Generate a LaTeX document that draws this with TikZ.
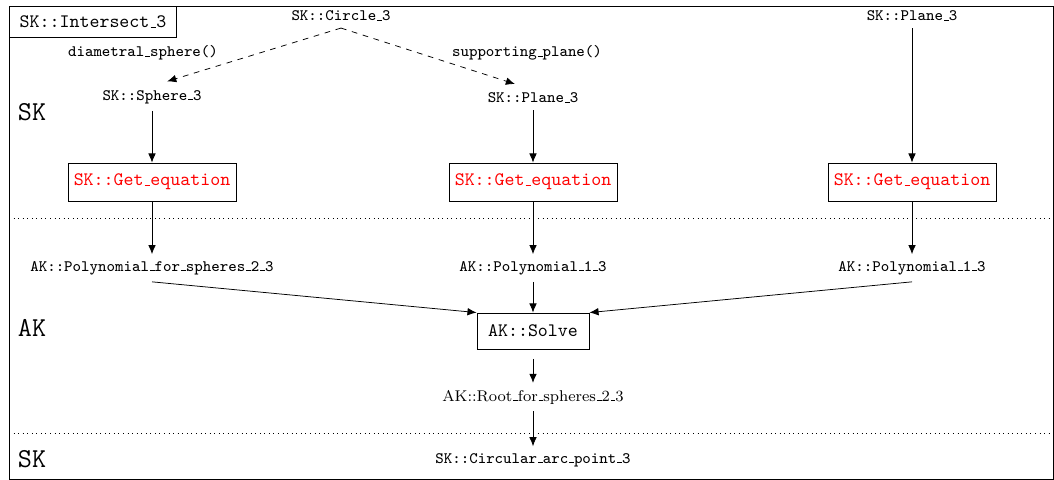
\documentclass[tikz,border=0pt]{standalone}
\usetikzlibrary{arrows.meta}
\newcommand{\us}{\leavevmode\kern.06em\vbox{\hrule width.3em}}
\begin{document}
\begin{tikzpicture}[x=0.5263pt,y=-0.5263pt,
  lbl/.style={font=\ttfamily\fontsize{8.4}{10}\selectfont, inner sep=3.5pt},
  rlbl/.style={font=\fontsize{8.2}{10}\selectfont, inner sep=3.5pt},
  fnbox/.style={draw, font=\ttfamily, text=red, minimum width=88.4pt, minimum height=20pt, inner sep=0pt},
  solvebox/.style={draw, font=\ttfamily, minimum width=59pt, minimum height=19pt, inner sep=0pt},
  layer/.style={font=\ttfamily\Large, inner sep=0pt},
  arr/.style={-{Latex[length=4.8pt,width=4pt]}},
  darr/.style={arr, dashed},
  sep/.style={dotted}]
\useasboundingbox (0,0) rectangle (1054,480);
% frame
\draw (9,6) rectangle (1053,479);
\node[draw, font=\ttfamily, anchor=north west, minimum width=88pt, minimum height=16.3pt, inner sep=0pt] (title) at (9,6) {SK::Intersect\us3};
% separators
\draw[sep] (9,218) -- (1053,218);
\draw[sep] (9,433) -- (1053,433);
% layer labels
\node[layer] (l1) at (32,112) {SK};
\node[layer] (l2) at (32,328) {AK};
\node[layer] (l3) at (32,459) {SK};
% SK nodes
\node[lbl] (circ) at (341,16) {SK::Circle\us3};
\node[lbl] (sph) at (152,97) {SK::Sphere\us3};
\node[lbl] (pl1) at (533,98) {SK::Plane\us3};
\node[lbl] (pl2) at (912,16) {SK::Plane\us3};
\node[lbl] (ldiam) at (143,53) {diametral\us sphere()};
\node[lbl] (lsupp) at (527,53) {supporting\us plane()};
% get equation
\node[fnbox] (ge1) at (152,182) {SK::Get\us equation};
\node[fnbox] (ge2) at (533,182) {SK::Get\us equation};
\node[fnbox] (ge3) at (912,182) {SK::Get\us equation};
% AK
\node[lbl] (po1) at (152,268) {AK::Polynomial\us for\us spheres\us2\us3};
\node[lbl] (po2) at (533,268) {AK::Polynomial\us1\us3};
\node[lbl] (po3) at (912,268) {AK::Polynomial\us1\us3};
\node[solvebox] (solve) at (533,331) {AK::Solve};
\node[rlbl] (root) at (533,397) {AK::Root\us for\us spheres\us2\us3};
\node[lbl] (cap) at (533,460) {SK::Circular\us arc\us point\us3};
% connectors
\draw[darr] (circ.south) -- ([xshift=8pt,yshift=1pt]sph.north);
\draw[darr] (circ.south) -- ([xshift=-9.5pt,yshift=1pt]pl1.north);
\draw[arr] (sph) -- (ge1);
\draw[arr] (pl1) -- (ge2);
\draw[arr] (pl2) -- (ge3);
\draw[arr] (ge1) -- (po1);
\draw[arr] (ge2) -- (po2);
\draw[arr] (ge3) -- (po3);
\draw[arr] (po1.south) -- (solve.north west);
\draw[arr] (po2) -- (solve);
\draw[arr] (po3.south) -- (solve.north east);
\draw[arr, shorten <=5pt] (solve) -- (root);
\draw[arr] (root) -- (cap);
\end{tikzpicture}
\end{document}
